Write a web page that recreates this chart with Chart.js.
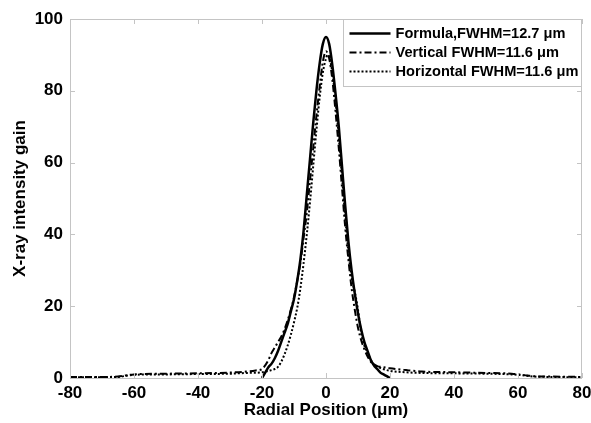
<!DOCTYPE html>
<html lang="en">
    <head>
        <meta charset="utf-8" />
        <title>X-ray intensity gain vs radial position</title>
        <style>
            html,
            body {
                margin: 0;
                padding: 0;
                background: #ffffff;
            }
            #wrap {
                width: 591px;
                height: 423px;
            }
        </style>
    </head>
    <body>
        <div id="wrap"><canvas id="gainChart" width="591" height="423"></canvas></div>

        <script src="https://cdn.jsdelivr.net/npm/chart.js"></script>
        <script>
            // values (x in µm, y = gain)
            const formulaPos = [-20, -19, -18, -17, -16, -15, -14, -13, -12, -11, -10, -9, -8, -7, -6, -5, -4, -3, -2, -1, 0, 1, 2, 3, 4, 5, 6, 7, 8, 9, 10, 11, 12, 13, 14, 15, 16, 17, 18, 19, 20];
            const formulaGain = [0, 1.5, 3, 4, 5.5, 7.5, 10, 12.5, 15, 18.5, 22, 27, 33, 41, 51, 61, 71, 80, 87.5, 93, 95, 93, 87, 79, 70, 59, 48, 38, 30, 23.5, 18, 13.5, 10, 7.5, 5, 3.5, 2.5, 1.5, 1, 0.5, 0];

            const verticalPos = [-80, -70, -65, -62, -60, -50, -40, -30, -25, -22, -20, -19, -18, -17, -16, -15, -14, -13, -12, -11, -10, -9, -8, -7, -6, -5, -4, -3, -2, -1, 0, 1, 2, 3, 4, 5, 6, 7, 8, 9, 10, 11, 12, 13, 14, 15, 16, 18, 20, 25, 30, 40, 50, 58, 62, 65, 70, 80];
            const verticalGain = [0.3, 0.3, 0.4, 0.8, 1.0, 1.2, 1.3, 1.5, 1.8, 2.1, 2.5, 3.5, 5, 7, 8.5, 10, 11.5, 13.5, 16, 19, 22.5, 27, 32, 39, 46, 55, 64, 73, 81, 88, 91, 89, 83, 74, 64, 53, 42, 33, 25, 19, 14, 10.5, 8, 6, 4.5, 3.8, 3.3, 3, 2.7, 2.2, 1.8, 1.6, 1.4, 1.2, 0.8, 0.5, 0.4, 0.3];

            const horizontalPos = [-80, -65, -62, -60, -50, -40, -30, -25, -20, -18, -16, -15, -14, -13, -12, -11, -10, -9, -8, -7, -6, -5, -4, -3, -2, -1, 0, 0.5, 1, 2, 3, 4, 5, 6, 7, 8, 9, 10, 11, 12, 13, 14, 15, 17, 20, 25, 30, 40, 50, 58, 62, 65, 70, 80];
            const horizontalGain = [0.2, 0.3, 0.7, 0.9, 1.0, 1.1, 1.2, 1.4, 1.6, 2, 2.5, 3.1, 4.5, 6.5, 9, 12, 15.5, 19.5, 25, 32, 40, 49, 59, 69, 78, 85, 89, 90, 89.5, 85, 77, 67, 56, 45, 35, 28, 24, 19, 12.5, 9, 7, 5, 3.8, 2.8, 2, 1.6, 1.4, 1.3, 1.2, 1.0, 0.7, 0.4, 0.3, 0.2];

            const seriesNames = ["Formula,FWHM=12.7 μm", "Vertical FWHM=11.6 μm", "Horizontal FWHM=11.6 μm"];

            const FONT = "'Liberation Sans', Arial, sans-serif";

            function toPoints(xs, ys) {
                return xs.map((x, i) => ({ x: x, y: ys[i] }));
            }

            // light grey frame with small inward tick marks, like the original plot
            const framePlugin = {
                id: "frame",
                afterDatasetsDraw(chart) {
                    const { ctx, chartArea: a, scales } = chart;
                    ctx.save();
                    ctx.strokeStyle = "#c4c4c4";
                    ctx.lineWidth = 1;
                    ctx.strokeRect(a.left + 0.5, a.top + 0.5, a.right - a.left - 1, a.bottom - a.top);
                    ctx.beginPath();
                    scales.x.ticks.forEach((t) => {
                        const px = Math.round(scales.x.getPixelForValue(t.value)) + 0.5;
                        ctx.moveTo(px, a.bottom);
                        ctx.lineTo(px, a.bottom - 5);
                        ctx.moveTo(px, a.top);
                        ctx.lineTo(px, a.top + 5);
                    });
                    scales.y.ticks.forEach((t) => {
                        const py = Math.round(scales.y.getPixelForValue(t.value)) + 0.5;
                        ctx.moveTo(a.left, py);
                        ctx.lineTo(a.left + 5, py);
                        ctx.moveTo(a.right, py);
                        ctx.lineTo(a.right - 5, py);
                    });
                    ctx.stroke();
                    ctx.restore();
                },
            };

            // boxed legend in the top right corner
            const boxLegend = {
                id: "boxLegend",
                afterDraw(chart) {
                    const { ctx, chartArea: a } = chart;
                    const left = 343.5;
                    const top = a.top + 0.5;
                    const w = a.right - left - 0.5;
                    const h = 67;
                    ctx.save();
                    ctx.fillStyle = "#ffffff";
                    ctx.fillRect(left, top, w, h);
                    ctx.strokeStyle = "#c4c4c4";
                    ctx.lineWidth = 1;
                    ctx.strokeRect(left, top, w, h);
                    chart.data.datasets.forEach((ds, i) => {
                        const y = top + 14 + i * 19;
                        ctx.strokeStyle = "#000";
                        ctx.lineWidth = ds.borderWidth;
                        ctx.setLineDash(ds.borderDash || []);
                        ctx.beginPath();
                        ctx.moveTo(left + 6, y);
                        ctx.lineTo(left + 47, y);
                        ctx.stroke();
                        ctx.setLineDash([]);
                        ctx.fillStyle = "#000";
                        ctx.font = "bold 14.6px " + FONT;
                        ctx.textBaseline = "middle";
                        ctx.fillText(ds.label, left + 52, y);
                    });
                    ctx.restore();
                },
            };

            new Chart(document.getElementById("gainChart"), {
                type: "scatter",
                data: {
                    datasets: [
                        {
                            label: seriesNames[0],
                            data: toPoints(formulaPos, formulaGain),
                            borderColor: "#000",
                            borderWidth: 2.5,
                        },
                        {
                            label: seriesNames[1],
                            data: toPoints(verticalPos, verticalGain),
                            borderColor: "#000",
                            borderWidth: 2,
                            borderDash: [7, 3, 2, 3],
                        },
                        {
                            label: seriesNames[2],
                            data: toPoints(horizontalPos, horizontalGain),
                            borderColor: "#000",
                            borderWidth: 2,
                            borderDash: [2, 2],
                        },
                    ].map((d) => Object.assign(d, {
                        showLine: true,
                        pointRadius: 0,
                        cubicInterpolationMode: "monotone",
                        clip: 4,
                    })),
                },
                options: {
                    responsive: false,
                    animation: false,
                    layout: { padding: { top: 19, right: 9, left: 0, bottom: 0 } },
                    plugins: {
                        legend: { display: false },
                        tooltip: { enabled: false },
                    },
                    scales: {
                        x: {
                            type: "linear",
                            min: -80,
                            max: 80,
                            ticks: {
                                stepSize: 20,
                                color: "#000",
                                padding: 5,
                                maxRotation: 0,
                                font: { family: FONT, size: 17, weight: "bold" },
                            },
                            grid: { display: false, drawTicks: false },
                            border: { display: false },
                            title: {
                                display: true,
                                text: "Radial Position (μm)",
                                color: "#000",
                                padding: { top: 0, bottom: 2 },
                                font: { family: FONT, size: 17, weight: "bold" },
                            },
                            afterFit(scale) {
                                scale.height = 45;
                                scale.paddingLeft = 0;
                                scale.paddingRight = 0;
                            },
                        },
                        y: {
                            min: 0,
                            max: 100,
                            ticks: {
                                stepSize: 20,
                                color: "#000",
                                padding: 7,
                                font: { family: FONT, size: 17, weight: "bold" },
                            },
                            grid: { display: false, drawTicks: false },
                            border: { display: false },
                            title: {
                                display: true,
                                text: "X-ray intensity gain",
                                color: "#000",
                                padding: { top: 10, bottom: 0 },
                                font: { family: FONT, size: 17, weight: "bold" },
                            },
                            afterFit(scale) {
                                scale.width = 70;
                                scale.paddingTop = 0;
                                scale.paddingBottom = 0;
                            },
                        },
                    },
                },
                plugins: [framePlugin, boxLegend],
            });
        </script>
    </body>
</html>
